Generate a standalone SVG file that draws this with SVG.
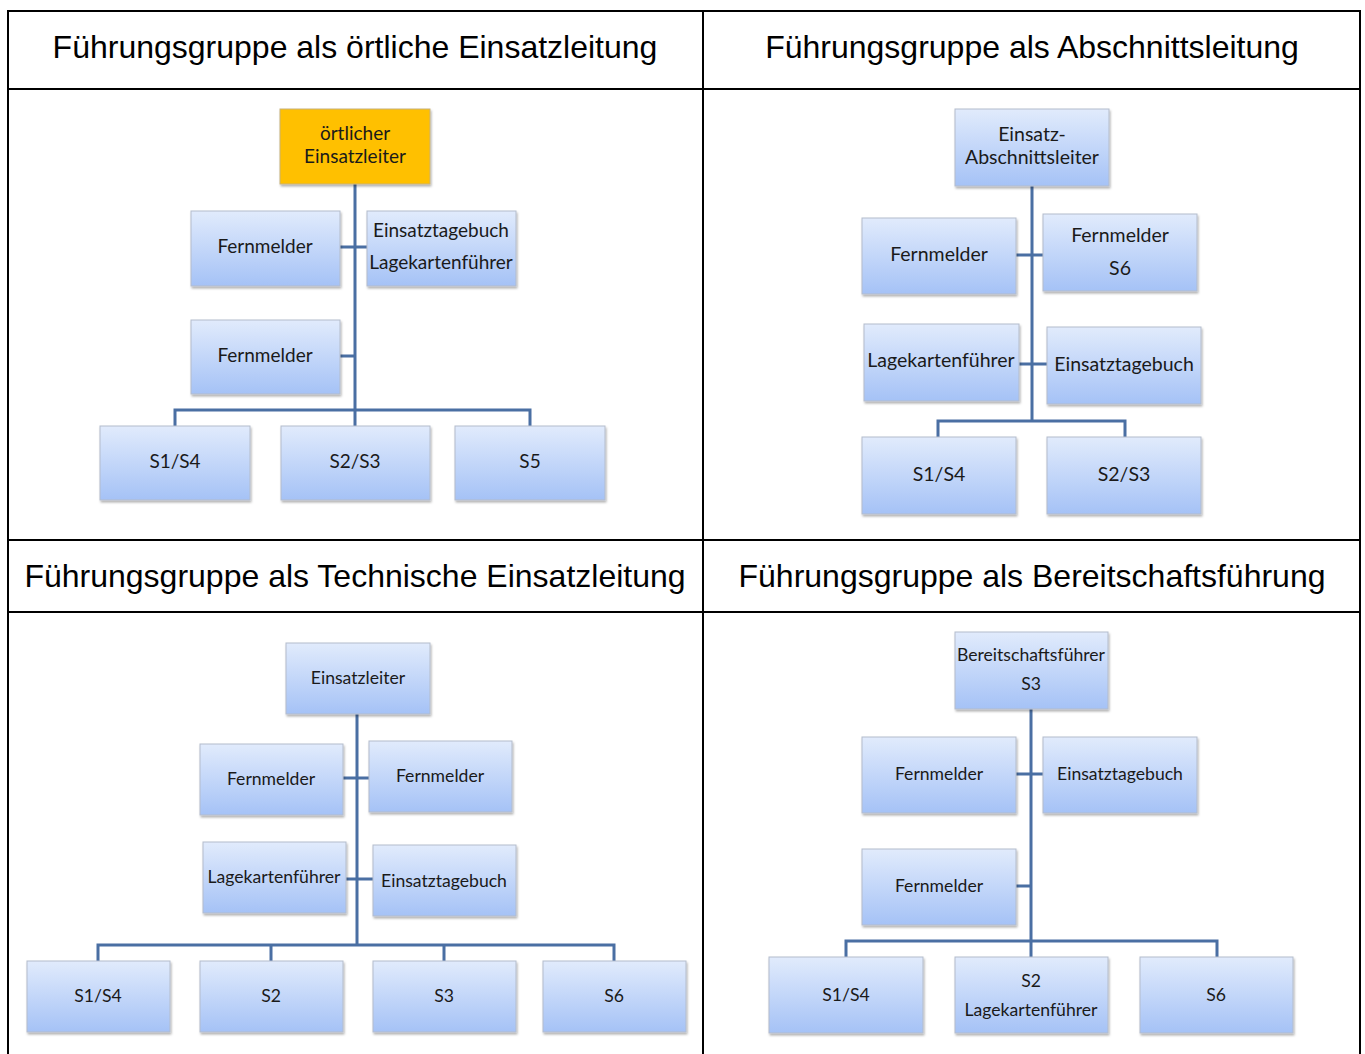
<svg xmlns="http://www.w3.org/2000/svg" width="1365" height="1054" viewBox="0 0 1365 1054">
<defs>
<linearGradient id="bg" x1="0" y1="0" x2="0" y2="1">
<stop offset="0" stop-color="#e1ebfc"/>
<stop offset="1" stop-color="#a5c2f6"/>
</linearGradient>
<filter id="sh" x="-10%" y="-10%" width="130%" height="140%">
<feDropShadow dx="1" dy="2" stdDeviation="1.2" flood-color="#000" flood-opacity="0.3"/>
</filter>
</defs>
<style>
.hd{font-family:"Liberation Sans",Arial,sans-serif;font-size:32px;fill:#000;text-anchor:middle}
.tbl{stroke:#000;stroke-width:2;fill:none}
.box{fill:url(#bg);stroke:#b4bccb;stroke-width:1;filter:url(#sh)}
.org{fill:#ffc000;stroke:#c8b27a;stroke-width:1;filter:url(#sh)}
.t{font-family:Lato,"Open Sans",sans-serif;font-size:19px;fill:#1a1a1a;text-anchor:middle}
.t2{font-family:Lato,"Open Sans",sans-serif;font-size:19.5px;fill:#1a1a1a;text-anchor:middle}
.ts{font-family:Lato,"Open Sans",sans-serif;font-size:17.6px;fill:#1a1a1a;text-anchor:middle}
.c{stroke:#4a6fa3;stroke-width:3;fill:none}
</style>
<rect width="1365" height="1054" fill="#fff"/>
<g id="table">
<path class="tbl" d="M8 1054V11H1360V1054M703 11V1054M8 89H1360M8 540H1360M8 612H1360"/>
<text class="hd" x="355" y="58">Führungsgruppe als örtliche Einsatzleitung</text>
<text class="hd" x="1032" y="58">Führungsgruppe als Abschnittsleitung</text>
<text class="hd" x="355" y="587">Führungsgruppe als Technische Einsatzleitung</text>
<text class="hd" x="1032" y="587">Führungsgruppe als Bereitschaftsführung</text>
</g>
<g id="connectors">
<path class="c" d="M355 184V410M175 426V410H530V426M355 410V426M340 247H367M340 356H355"/>
<path class="c" d="M1032 186V421M938 437V421H1125V437M1016 255H1043M1019 364H1047"/>
<path class="c" d="M357 714V945M98 961V945H614V961M271 945V961M444 945V961M343 778H369M346 879H373"/>
<path class="c" d="M1031 709V941M846 957V941H1217V957M1031 941V957M1016 774H1043M1016 886H1031"/>
</g>
<g id="n1-leiter"><rect class="org" x="280" y="109" width="150" height="75"/><text class="t" x="355" y="140">örtlicher</text><text class="t" x="355" y="163">Einsatzleiter</text></g>
<g id="n1-fm1"><rect class="box" x="191" y="211" width="149" height="75"/><text class="t" x="265" y="253">Fernmelder</text></g>
<g id="n1-etb"><rect class="box" x="367" y="211" width="149" height="75"/><text class="t" x="441" y="237">Einsatztagebuch</text><text class="t" x="441" y="269">Lagekartenführer</text></g>
<g id="n1-fm2"><rect class="box" x="191" y="320" width="149" height="74"/><text class="t" x="265" y="362">Fernmelder</text></g>
<g id="n1-s14"><rect class="box" x="100" y="426" width="150" height="74"/><text class="t" x="175" y="468">S1/S4</text></g>
<g id="n1-s23"><rect class="box" x="281" y="426" width="149" height="74"/><text class="t" x="355" y="468">S2/S3</text></g>
<g id="n1-s5"><rect class="box" x="455" y="426" width="150" height="74"/><text class="t" x="530" y="468">S5</text></g>

<g id="n2-leiter"><rect class="box" x="955" y="109" width="154" height="77"/><text class="t2" x="1032" y="141">Einsatz-</text><text class="t2" x="1032" y="164">Abschnittsleiter</text></g>
<g id="n2-fm1"><rect class="box" x="862" y="218" width="154" height="76"/><text class="t2" x="939" y="261">Fernmelder</text></g>
<g id="n2-fm2"><rect class="box" x="1043" y="214" width="154" height="77"/><text class="t2" x="1120" y="242">Fernmelder</text><text class="t2" x="1120" y="275">S6</text></g>
<g id="n2-lkf"><rect class="box" x="864" y="324" width="155" height="77"/><text class="t2" x="941" y="367">Lagekartenführer</text></g>
<g id="n2-etb"><rect class="box" x="1047" y="327" width="154" height="77"/><text class="t2" x="1124" y="371">Einsatztagebuch</text></g>
<g id="n2-s14"><rect class="box" x="862" y="437" width="154" height="77"/><text class="t2" x="939" y="481">S1/S4</text></g>
<g id="n2-s23"><rect class="box" x="1047" y="437" width="154" height="77"/><text class="t2" x="1124" y="481">S2/S3</text></g>

<g id="n3-leiter"><rect class="box" x="286" y="643" width="144" height="71"/><text class="ts" x="358" y="684">Einsatzleiter</text></g>
<g id="n3-fm1"><rect class="box" x="200" y="744" width="143" height="71"/><text class="ts" x="271" y="785">Fernmelder</text></g>
<g id="n3-fm2"><rect class="box" x="369" y="741" width="143" height="71"/><text class="ts" x="440" y="782">Fernmelder</text></g>
<g id="n3-lkf"><rect class="box" x="203" y="842" width="143" height="71"/><text class="ts" x="274" y="883">Lagekartenführer</text></g>
<g id="n3-etb"><rect class="box" x="373" y="845" width="143" height="71"/><text class="ts" x="444" y="887">Einsatztagebuch</text></g>
<g id="n3-s14"><rect class="box" x="27" y="961" width="143" height="71"/><text class="ts" x="98" y="1002">S1/S4</text></g>
<g id="n3-s2"><rect class="box" x="200" y="961" width="143" height="71"/><text class="ts" x="271" y="1002">S2</text></g>
<g id="n3-s3"><rect class="box" x="373" y="961" width="143" height="71"/><text class="ts" x="444" y="1002">S3</text></g>
<g id="n3-s6"><rect class="box" x="543" y="961" width="143" height="71"/><text class="ts" x="614" y="1002">S6</text></g>

<g id="n4-leiter"><rect class="box" x="955" y="632" width="153" height="77"/><text class="ts" x="1031" y="661">Bereitschaftsführer</text><text class="ts" x="1031" y="690">S3</text></g>
<g id="n4-fm1"><rect class="box" x="862" y="737" width="154" height="76"/><text class="ts" x="939" y="780">Fernmelder</text></g>
<g id="n4-etb"><rect class="box" x="1043" y="737" width="154" height="76"/><text class="ts" x="1120" y="780">Einsatztagebuch</text></g>
<g id="n4-fm2"><rect class="box" x="862" y="849" width="154" height="76"/><text class="ts" x="939" y="892">Fernmelder</text></g>
<g id="n4-s14"><rect class="box" x="769" y="957" width="154" height="76"/><text class="ts" x="846" y="1001">S1/S4</text></g>
<g id="n4-s2"><rect class="box" x="955" y="957" width="153" height="76"/><text class="ts" x="1031" y="987">S2</text><text class="ts" x="1031" y="1016">Lagekartenführer</text></g>
<g id="n4-s6"><rect class="box" x="1140" y="957" width="153" height="76"/><text class="ts" x="1216" y="1001">S6</text></g>
</svg>
